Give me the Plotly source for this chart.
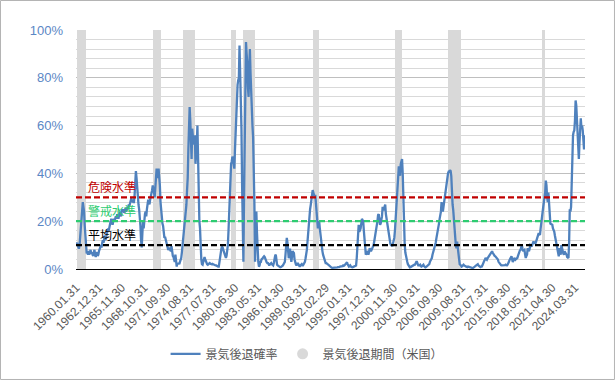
import calendar
import plotly.graph_objects as go

# ---------------- data ----------------
START_YEAR, END_YEAR, END_MONTH = 1960, 2025, 6

# monthly recession probability (%), 1960.01 - 2025.06
recession_probability = [
    10.5, 11, 10, 9, 8.5, 10, 13, 17, 21, 25, 28, 26,          # 1960
    24, 18, 12, 8, 6.5, 7, 6, 7.5, 6, 7, 8, 6.5,               # 1961
    7, 6, 5.5, 7, 8, 6, 5, 6.5, 7, 5.5, 6, 7.5,                # 1962
    8, 9, 10, 9, 11, 12, 11, 13, 14, 12, 13.5, 15,             # 1963
    15.5, 17, 16, 18, 19, 20, 21, 19, 18.5, 20, 21, 20,        # 1964
    21, 22, 21, 23, 22, 21, 22.5, 24, 23, 22, 24, 25,          # 1965
    24, 25, 23.5, 24, 25.5, 24, 25, 26, 25, 27, 26.5, 28,      # 1966
    28, 29.6, 28, 29, 28, 28, 31, 35, 41, 38, 34, 28,          # 1967
    27, 25, 22, 18, 12, 9, 15, 20, 17, 21, 23, 24,             # 1968
    22, 25, 27, 29, 28, 27, 29, 30, 31, 33, 35, 34,            # 1969
    32, 30, 33, 37, 42, 40, 38, 42, 39, 35, 28, 24,            # 1970
    21, 19, 18, 15, 13, 13.5, 12, 10.5, 10, 9, 8, 8.5,         # 1971
    9, 8, 7.4, 9.6, 7, 5.5, 5, 3.5, 3, 6, 2, 1,                # 1972
    2.5, 2, 2.5, 2, 3, 3.5, 4.6, 7, 10, 12, 15, 17,            # 1973
    20, 24, 27, 33, 38, 50, 60, 67.8, 62, 50, 46, 58.7,        # 1974
    55, 52, 54, 56, 44, 47.6, 52, 60, 42, 27, 20, 17,          # 1975
    8, 4, 2, 1.8, 3, 4, 5, 4, 3, 2.5, 2, 1.8,                  # 1976
    2, 2.2, 2.5, 2.2, 2, 2, 2.2, 2, 1.8, 1.6, 1.5, 1.5,        # 1977
    1.5, 1.2, 1.2, 1, 1, 3, 6, 7.5, 8.5, 9.4, 9, 8,            # 1978
    7, 6, 5, 4.6, 5.5, 7, 10, 16, 22.6, 35, 42, 44,            # 1979
    45, 47, 46, 44, 42, 50, 58.7, 67, 75, 77, 79, 80,          # 1980
    93.5, 85, 72, 58.7, 35, 15, 3, 30, 58.7, 80, 95, 90,       # 1981
    86, 76, 72, 84, 92, 82, 72, 65.7, 60, 55, 45, 27,          # 1982
    3, 22.6, 24, 15, 6, 3, 1, 1.5, 3, 3, 4, 4.6,               # 1983
    4.6, 5, 5.3, 5, 4, 3, 2.8, 2.5, 2.5, 2, 1.5, 2,            # 1984
    2.2, 2.5, 2, 1.6, 1.5, 2.5, 4.6, 5.5, 6, 3, 1.8, 1.5,      # 1985
    1.2, 1, 0.8, 0.7, 0.8, 1, 1.2, 1.5, 2, 2.5, 3, 6,          # 1986
    9, 13, 11, 7, 4.5, 6, 8.5, 6, 3, 5, 7.5, 7,                # 1987
    6.7, 4, 2.5, 2, 1.5, 2, 2.5, 2, 1.5, 1, 1.5, 2,            # 1988
    2, 1.5, 1.5, 2, 2.5, 3, 4.5, 6, 8, 11.5, 16, 20,           # 1989
    23, 25, 26.8, 29, 30, 33, 32, 31, 30, 31, 27, 23,          # 1990
    20, 17, 19, 20, 17, 14, 11.5, 9, 7.5, 6, 5, 4.5,           # 1991
    3.5, 2.5, 2.5, 2, 2, 1.8, 1.5, 1.5, 1, 0.7, 0.6, 0.5,      # 1992
    0.5, 0.4, 0.4, 0.5, 0.6, 0.5, 0.6, 0.7, 0.8, 0.7, 0.8, 1,  # 1993
    1, 0.9, 1, 1.2, 1.5, 1.3, 1.5, 1.8, 2, 2.5, 2.8, 2,        # 1994
    1.5, 1, 1.2, 1.5, 1, 0.8, 0.7, 0.8, 0.9, 1, 1, 1.2,        # 1995
    1.5, 4.5, 9, 15, 18.5, 15.5, 16, 17, 19, 21, 20.5, 20,     # 1996
    16, 11.5, 8, 6, 6.5, 7.5, 7, 6, 7, 8.7, 8, 7.4,            # 1997
    8, 8.5, 9.4, 10, 11.5, 13, 14, 16, 18.5, 20, 22.6, 23,     # 1998
    21, 18.5, 19, 20, 22, 26, 25, 24.5, 26, 27, 23, 21,        # 1999
    19, 17, 15, 14, 11, 10.5, 10, 10, 9.5, 10.5, 11, 13,       # 2000
    16, 20, 25, 31, 36, 39, 43, 41, 39, 44, 45.5, 46,          # 2001
    40, 25, 14, 11, 7, 5, 4.5, 3, 2, 1.5, 0.8, 0.7,            # 2002
    0.8, 1, 1, 1.2, 1.5, 1.5, 1.8, 1.8, 2.5, 3, 3, 2,          # 2003
    1.5, 1.5, 1.8, 1.8, 1.2, 1, 1.2, 1.5, 1.8, 1.2, 0.8, 0.7,  # 2004
    0.8, 1, 1.2, 1.5, 1.5, 2, 3, 3.5, 4, 4.6, 6, 7,            # 2005
    7.5, 9, 10, 11, 12.8, 14, 16, 17, 19, 21, 22, 24,          # 2006
    28, 26, 24, 26, 28, 30, 33, 35.6, 37, 39, 40, 40.7,        # 2007
    40.7, 41.4, 41, 39, 30, 27, 24.7, 20, 17, 14, 10, 8.7,     # 2008
    11.5, 9, 6, 3, 2, 1.8, 1.2, 1, 1.2, 1.5, 1.8, 1.5,         # 2009
    1.5, 1.2, 1, 0.7, 0.8, 1, 0.9, 0.8, 0.7, 0.5, 0.5, 0.4,    # 2010
    0.4, 0.5, 0.8, 0.7, 1, 1.3, 1.6, 1.8, 2, 1.5, 1.2, 1,      # 2011
    0.8, 1, 1, 1.5, 2.5, 3, 3.5, 4, 4.6, 4.2, 3.9, 4.5,        # 2012
    5, 5.3, 5.5, 6, 6.5, 7, 7.4, 6.8, 6.2, 6, 5.5, 5.3,        # 2013
    5, 4.8, 4.6, 4, 3, 2.5, 2, 1.5, 1.6, 1.5, 1.5, 1.4,        # 2014
    1.4, 1.5, 1.6, 1.8, 1.7, 1.5, 1.8, 2.2, 3, 3.8, 4.6, 5,    # 2015
    5.3, 4, 3, 3.5, 4.6, 4.2, 3.9, 4.2, 4.5, 4.6, 5.5, 6.5,    # 2016
    7.4, 7.8, 8, 9, 10, 8.5, 7.4, 7.8, 8, 6, 4.6, 5.5,         # 2017
    6, 8.7, 8, 7.4, 8.5, 10, 9.8, 9.4, 10, 10.5, 11.5, 11,     # 2018
    11, 10.8, 11.5, 12.5, 13.6, 14.5, 15, 14.5, 14.3, 17, 20, 22,  # 2019
    24, 26, 28, 30, 32, 37, 35, 30, 28, 32, 25.4, 20,          # 2020
    19, 18.8, 18.5, 18.5, 17, 16.5, 15.7, 14, 12.8, 11.5, 10, 8,  # 2021
    6.7, 5.3, 8.7, 7, 6, 10, 8.5, 7.4, 6.5, 6, 7.4, 6.8,       # 2022
    6.5, 6, 5, 4.6, 4.6, 11.5, 25, 24, 26, 38, 54, 56,         # 2023
    57.4, 58, 62, 70.5, 68.5, 63, 61.5, 56, 46, 53, 58, 63,    # 2024
    59, 60, 58, 54.6, 50, 56,                                  # 2025
]

# US recessions (NBER), first and last month
recession_starts = ["1960.04", "1969.12", "1973.11", "1980.01", "1981.07",
                    "1990.07", "2001.03", "2007.12", "2020.02"]
recession_ends = ["1961.02", "1970.11", "1975.03", "1980.07", "1982.11",
                  "1991.03", "2001.11", "2009.06", "2020.04"]

TICK_LABELS = ["1960.01.31", "1962.12.31", "1965.11.30", "1968.10.31", "1971.09.30",
               "1974.08.31", "1977.07.31", "1980.06.30", "1983.05.31", "1986.04.30",
               "1989.03.31", "1992.02.29", "1995.01.31", "1997.12.31", "2000.11.30",
               "2003.10.31", "2006.09.30", "2009.08.31", "2012.07.31", "2015.06.30",
               "2018.05.31", "2021.04.30", "2024.03.31"]

Y_TICKS = [0, 20, 40, 60, 80, 100]
Y_TICK_TEXT = ["0%", "20%", "40%", "60%", "80%", "100%"]

LEVELS = [30, 20, 10]
LEVEL_NAMES = ["危険水準", "警戒水準", "平均水準"]
LEVEL_COLORS = ["#c00000", "#2ecc71", "#000000"]

SERIES_NAME = "景気後退確率"
RECESSION_NAME = "景気後退期間（米国）"

# ---------------- build categories ----------------
months = []
month_keys = []
for y in range(START_YEAR, END_YEAR + 1):
    for m in range(1, 13):
        if (y, m) > (END_YEAR, END_MONTH):
            break
        d = calendar.monthrange(y, m)[1]
        months.append(f"{y}.{m:02d}.{d:02d}")
        month_keys.append(f"{y}.{m:02d}")

recession_flag = []
for k in month_keys:
    inside = any(s <= k <= e for s, e in zip(recession_starts, recession_ends))
    recession_flag.append(100 if inside else 0)

FONT = "Liberation Sans, Arial, Noto Sans CJK JP, sans-serif"
CJK = "Noto Sans CJK JP, Liberation Sans, sans-serif"

fig = go.Figure()
fig.add_trace(go.Bar(
    x=months, y=recession_flag, marker=dict(color="#d9d9d9", line=dict(width=0)),
    showlegend=False, hoverinfo="skip", name=RECESSION_NAME,
))
fig.add_trace(go.Scatter(
    x=months, y=recession_probability, mode="lines", name=SERIES_NAME,
    line=dict(color="#4f81bd", width=2.3),
))
fig.add_trace(go.Scatter(
    x=[None], y=[None], mode="markers", name=RECESSION_NAME,
    marker=dict(color="#d9d9d9", size=11, symbol="circle"),
))

shapes = []
annotations = []
for lv, name, col in zip(LEVELS, LEVEL_NAMES, LEVEL_COLORS):
    shapes.append(dict(type="line", xref="paper", yref="y", x0=0, x1=1, y0=lv, y1=lv,
                       line=dict(color=col, width=2.3, dash="6px,3px"), layer="above"))
    annotations.append(dict(text=name, xref="paper", yref="y", x=0.019, y=lv,
                            xanchor="left", yanchor="bottom", yshift=0, showarrow=False,
                            font=dict(family=CJK, size=12, color=col)))

# outer chart border
shapes.append(dict(type="rect", xref="paper", yref="paper",
                   x0=-0.1483, x1=1.0579, y0=-0.4623, y1=1.1234,
                   line=dict(color="#b4b4b4", width=1), layer="below"))

fig.update_layout(
    width=615, height=380,
    margin=dict(l=76, r=30, t=30, b=111, autoexpand=False),
    paper_bgcolor="white", plot_bgcolor="white",
    bargap=0,
    font=dict(family=FONT, size=12, color="#595959"),
    shapes=shapes, annotations=annotations,
    legend=dict(orientation="h", x=0.454, xanchor="center", y=-0.355, yanchor="middle",
                itemwidth=30,
                font=dict(family=CJK, size=12, color="#595959")),
    xaxis=dict(type="category", range=[-0.5, len(months) - 0.5], automargin=False,
               tickmode="array", tickvals=TICK_LABELS, ticktext=TICK_LABELS,
               tickangle=-45, showgrid=False, showline=True, linecolor="#000000",
               linewidth=1, ticks="", tickfont=dict(size=12, color="#595959"),
               ticklabelstandoff=6),
    yaxis=dict(range=[0, 100], tickmode="array", tickvals=Y_TICKS, ticktext=Y_TICK_TEXT,
               automargin=False,
               showgrid=True, gridcolor="#bfbfbf", gridwidth=1, zeroline=False,
               showline=False, ticks="", tickfont=dict(size=13, color="#5b87c5"),
               ticklabelstandoff=12,
               minor=dict(dtick=4, showgrid=True, gridcolor="#d9d9d9", gridwidth=1)),
)

fig.write_html("out.html", config={"displayModeBar": False},
               post_script="document.body.style.margin='0';document.body.style.padding='0';")
